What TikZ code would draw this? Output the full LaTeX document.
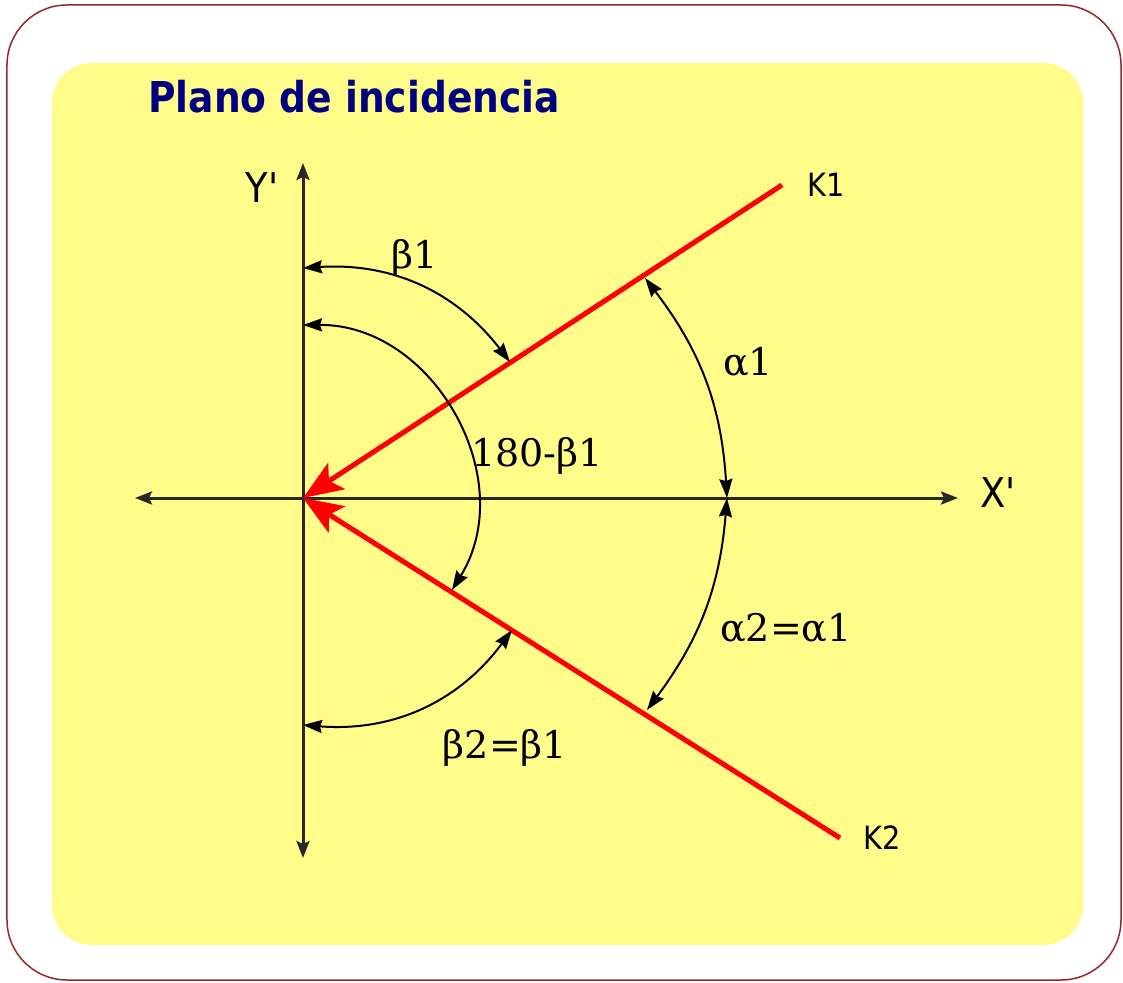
\documentclass[tikz,border=0pt]{standalone}
\usepackage{fontspec}
\usetikzlibrary{arrows.meta}
\newfontfamily\titlefont[FakeStretch=0.885]{DejaVu Sans}
\newfontfamily\axisfont[FakeStretch=0.9]{DejaVu Sans}
\newfontfamily\anglefont{DejaVu Serif}
\definecolor{panelyellow}{RGB}{255,252,138}
\definecolor{framered}{RGB}{150,40,40}
\definecolor{titleblue}{RGB}{0,0,128}
\definecolor{axisgray}{RGB}{40,40,40}
\begin{document}
\begin{tikzpicture}[x=1pt,y=1pt,
  axis/.style={draw=axisgray,line width=3pt,{Stealth[length=17pt,width=13pt,inset=3pt]}-{Stealth[length=17pt,width=13pt,inset=3pt]}},
  ray/.style={draw=red,line width=5pt,-{Stealth[length=40pt,width=31pt,inset=9pt]}},
  angarc/.style={draw=black,line width=2pt,{Stealth[length=19pt,width=13pt,inset=2pt]}-{Stealth[length=19pt,width=13pt,inset=2pt]}},
  axlabel/.style={font=\axisfont\fontsize{41}{41}\selectfont},
  raylabel/.style={font=\axisfont\fontsize{32}{32}\selectfont},
  anglabel/.style={font=\anglefont\fontsize{38}{38}\selectfont}]
\useasboundingbox (-303,-484) rectangle (820,498);
\draw[framered,line width=1.5pt,fill=white,rounded corners=60pt] (-296,-482) rectangle (818,493);
\fill[panelyellow,rounded corners=40pt] (-251,-447) rectangle (780,435);
\node[anchor=base west,inner sep=0pt,text=titleblue,font=\titlefont\bfseries\fontsize{42.5}{42.5}\selectfont] (title) at (-155,385) {Plano de incidencia};

\coordinate (O) at (0,0);
\coordinate (xl) at (-168,0);
\coordinate (xr) at (655,0);
\coordinate (yt) at (0,335);
\coordinate (yb) at (0,-360);
\draw[axis] (xl) -- (xr);
\draw[axis] (yb) -- (yt);
\node[axlabel] (xlab) at (695,5) {X'};
\node[axlabel] (ylab) at (-41,310) {Y'};

\coordinate (k1) at (479,313);
\coordinate (k2) at (537,-340);
\draw[ray] (k1) -- (O);
\draw[ray] (k2) -- (O);
\node[raylabel] (k1lab) at (523,313) {K1};
\node[raylabel] (k2lab) at (579,-340) {K2};

\coordinate (b1y) at (0,230);
\coordinate (b1k) at (207,136);
\coordinate (cy) at (0,173);
\coordinate (ck) at (149,-92);
\coordinate (b2y) at (0,-227);
\coordinate (b2k) at (209,-132);
\coordinate (ax) at (424,0);
\coordinate (a1k) at (342,220);
\coordinate (a2k) at (344,-212);
\draw[angarc] (b1y) to[bend left=28] (b1k);
\draw[angarc] (cy) to[bend left=61,looseness=1.1] (ck);
\draw[angarc] (b2y) to[bend right=29] (b2k);
\draw[angarc] (ax) to[bend right=17] (a1k);
\draw[angarc] (ax) to[bend left=16] (a2k);

\node[anglabel] (b1lab) at (112,240) {β1};
\node[anglabel] (a1lab) at (445,136) {α1};
\node[anglabel] (clab) at (234,42) {180-β1};
\node[anglabel] (a2lab) at (483,-130) {α2=α1};
\node[anglabel] (b2lab) at (202,-250) {β2=β1};
\end{tikzpicture}
\end{document}
